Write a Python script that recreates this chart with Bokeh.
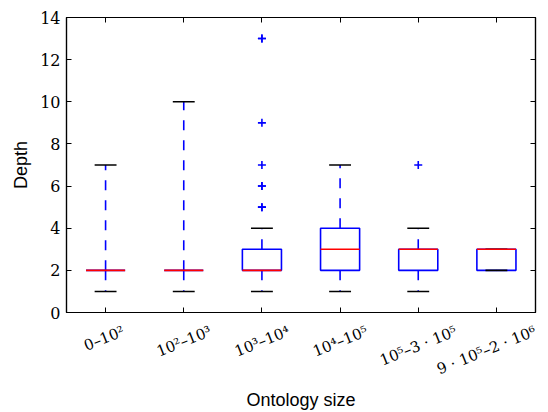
from bokeh.plotting import figure
from bokeh.models import FixedTicker, LinearAxis, Range1d
from bokeh.embed import file_html
from bokeh.resources import INLINE
import math

categories = ["0–10²", "10²–10³", "10³–10⁴", "10⁴–10⁵", "10⁵–3 · 10⁵", "9 · 10⁵–2 · 10⁶"]
whisker_low = [1, 1, 1, 1, 1, 2]
q1 = [2, 2, 2, 2, 2, 2]
median = [2, 2, 2, 3, 3, 3]
q3 = [2, 2, 3, 4, 3, 3]
whisker_high = [7, 10, 4, 7, 4, 3]
outlier_group = [3, 3, 3, 3, 3, 3, 3, 3, 5]
outlier_value = [5, 5, 6, 6, 7, 9, 13, 13, 7]
y_ticks = [0, 2, 4, 6, 8, 10, 12, 14]

xs = list(range(1, len(categories) + 1))
half_box = 0.25
half_cap = 0.14
angle = math.radians(22)
x_lo, x_hi = 0.5, 6.5
frame_w = 548 - 66 - 13

p = figure(width=548, height=412, output_backend="svg", toolbar_location=None,
           x_range=Range1d(x_lo, x_hi), y_range=Range1d(0, 14))
p.min_border_left = 66
p.min_border_right = 13
p.min_border_top = 17
p.min_border_bottom = 100
p.outline_line_color = "black"
p.outline_line_width = 1.2
p.grid.visible = False
p.background_fill_color = "white"
p.border_fill_color = "white"

serif = "DejaVu Serif"
sans = "Liberation Sans"
lw = 1.6

# boxes
p.quad(left=[x - half_box for x in xs], right=[x + half_box for x in xs],
       bottom=q1, top=q3, fill_color=None, line_color="blue", line_width=lw)
# whiskers
p.segment(x0=xs, y0=q1, x1=xs, y1=whisker_low, line_color="blue", line_width=lw, line_dash="10 10")
p.segment(x0=xs, y0=q3, x1=xs, y1=whisker_high, line_color="blue", line_width=lw, line_dash="10 10")
# caps
p.segment(x0=[x - half_cap for x in xs], y0=whisker_low, x1=[x + half_cap for x in xs], y1=whisker_low,
          line_color="black", line_width=lw)
p.segment(x0=[x - half_cap for x in xs], y0=whisker_high, x1=[x + half_cap for x in xs], y1=whisker_high,
          line_color="black", line_width=lw)
# medians
p.segment(x0=[x - half_box for x in xs], y0=median, x1=[x + half_box for x in xs], y1=median,
          line_color="red", line_width=lw)
# outliers
p.scatter(x=outlier_group, y=outlier_value, marker="cross", size=8, line_color="blue", line_width=lw)

# tick-label axis: bokeh anchors a rotated label at its right end, so place the
# anchor so that the label ends up centred under its tick (matplotlib style)
fs = 15.0


def text_width(s):
    w = 0.0
    for ch in s:
        if ch.isdigit():
            w += 0.636
        elif ch in "²³⁴⁵⁶":
            w += 0.40
        elif ch == "–":
            w += 0.5
        else:
            w += 0.318
    return w * fs


px_per_unit = frame_w / (x_hi - x_lo)
anchors = []
for x, c in zip(xs, categories):
    a = x + (text_width(c) * math.cos(angle) / 2 - 3) / px_per_unit
    anchors.append(round(min(a, x_hi - 0.001), 4))

lab_axis = LinearAxis(ticker=FixedTicker(ticks=anchors),
                      major_label_overrides={a: c for a, c in zip(anchors, categories)},
                      major_label_orientation=angle,
                      axis_line_color=None, major_tick_line_color=None, minor_tick_line_color=None,
                      major_tick_in=0, major_tick_out=0, major_label_standoff=18,
                      major_label_text_font=serif, major_label_text_font_size=f"{fs:g}px",
                      major_label_text_color="black",
                      axis_label="Ontology size", axis_label_text_font=sans,
                      axis_label_text_font_size="18px", axis_label_text_font_style="normal",
                      axis_label_text_color="black", axis_label_standoff=0)

# axes
p.xaxis.ticker = FixedTicker(ticks=xs)
p.yaxis.ticker = FixedTicker(ticks=y_ticks)
for ax in (p.xaxis[0], p.yaxis[0]):
    ax.major_tick_in = 5
    ax.major_tick_out = 0
    ax.minor_tick_line_color = None
    ax.axis_line_color = "black"
    ax.axis_line_width = 1.2
    ax.major_tick_line_color = "black"
    ax.major_label_text_font = serif
    ax.major_label_text_font_size = "16px"
    ax.major_label_text_color = "black"
    ax.axis_label_text_font = sans
    ax.axis_label_text_font_size = "18px"
    ax.axis_label_text_font_style = "normal"
    ax.axis_label_text_color = "black"
p.xaxis.major_label_text_color = None
p.yaxis.axis_label = "Depth"
p.yaxis.major_label_standoff = 6
p.yaxis.axis_label_standoff = 6
p.add_layout(lab_axis, "below")

right = LinearAxis(ticker=FixedTicker(ticks=y_ticks), major_label_text_color=None,
                   major_tick_in=5, major_tick_out=0, minor_tick_line_color=None,
                   axis_line_width=1.2)
top = LinearAxis(ticker=FixedTicker(ticks=xs), major_label_text_color=None,
                 major_tick_in=5, major_tick_out=0, minor_tick_line_color=None,
                 axis_line_width=1.2)
p.add_layout(right, "right")
p.add_layout(top, "above")

open("out.html", "w").write(file_html(p, INLINE))
